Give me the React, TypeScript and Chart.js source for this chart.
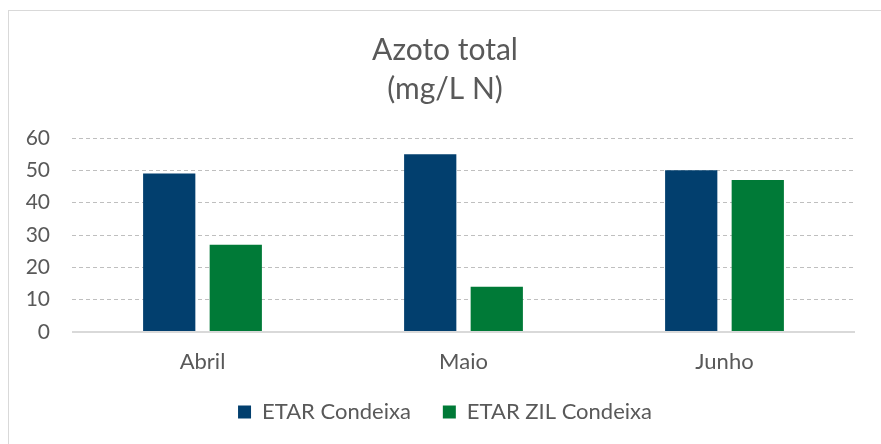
import React, { useEffect, useRef } from "react";
import { Chart, registerables } from "chart.js";

Chart.register(...registerables);

const categories = ["Abril", "Maio", "Junho"];
const seriesNames = ["ETAR Condeixa", "ETAR ZIL Condeixa"];
const etarCondeixa = [49, 55, 50];
const etarZilCondeixa = [27, 14, 47];
const yTicks = [0, 10, 20, 30, 40, 50, 60];
const titleLines = ["Azoto total", "(mg/L N)"];

const FONT = 'Lato, "Gill Sans", "Open Sans", sans-serif';
const TEXT = "#595959";

export default function App() {
  const ref = useRef<HTMLCanvasElement | null>(null);

  useEffect(() => {
    if (!ref.current) return;
    const chart = new Chart(ref.current, {
      type: "bar",
      data: {
        labels: categories,
        datasets: [
          {
            label: seriesNames[0],
            data: etarCondeixa,
            backgroundColor: "#023f6e",
            categoryPercentage: 0.51,
            barPercentage: 0.785,
          },
          {
            label: seriesNames[1],
            data: etarZilCondeixa,
            backgroundColor: "#007a37",
            categoryPercentage: 0.51,
            barPercentage: 0.785,
          },
        ],
      },
      options: {
        animation: false,
        responsive: false,
        maintainAspectRatio: false,
        layout: { padding: { left: 0, right: 0, top: 0, bottom: 11 } },
        plugins: {
          title: {
            display: true,
            text: titleLines,
            color: TEXT,
            font: { family: FONT, size: 30, weight: "normal", lineHeight: 1.3 },
            padding: { top: 19.5, bottom: 29.5 },
          },
          legend: {
            position: "bottom",
            labels: {
              color: TEXT,
              font: { family: FONT, size: 22 },
              boxWidth: 13,
              boxHeight: 13,
              padding: 32,
            },
          },
          tooltip: { enabled: false },
        },
        scales: {
          x: {
            grid: { display: false, drawTicks: false },
            border: { display: false },
            ticks: {
              color: TEXT,
              font: { family: FONT, size: 22 },
              padding: 17,
            },
            afterFit: (scale: any) => {
              scale.height = 37;
              scale.paddingRight = 26;
            },
          },
          y: {
            min: 0,
            max: 60,
            afterBuildTicks: (scale: any) => {
              scale.ticks = yTicks.map((v) => ({ value: v }));
            },
            grid: {
              drawTicks: false,
              color: (ctx: any) => (ctx.tick && ctx.tick.value === 0 ? "#d9d9d9" : "#bfbfbf"),
              lineWidth: (ctx: any) => (ctx.tick && ctx.tick.value === 0 ? 2 : 1),
            },
            border: {
              display: false,
              dash: (ctx: any) => (ctx.tick && ctx.tick.value === 0 ? [] : [4, 3]),
            },
            ticks: {
              color: TEXT,
              font: { family: FONT, size: 21 },
              padding: 22,
            },
            afterFit: (scale: any) => {
              scale.width = 63;
            },
          },
        },
      },
    });
    return () => chart.destroy();
  }, []);

  return (
    <div
      style={{
        position: "fixed",
        left: 0,
        top: 0,
        width: 881,
        height: 444,
        overflow: "hidden",
        background: "#fff",
      }}
    >
      <div
        style={{
          position: "absolute",
          left: 8,
          top: 10,
          width: 900,
          height: 460,
          border: "1px solid #d9d9d9",
          boxSizing: "border-box",
        }}
      >
        <canvas ref={ref} width={872} height={433} style={{ display: "block" }} />
      </div>
    </div>
  );
}
